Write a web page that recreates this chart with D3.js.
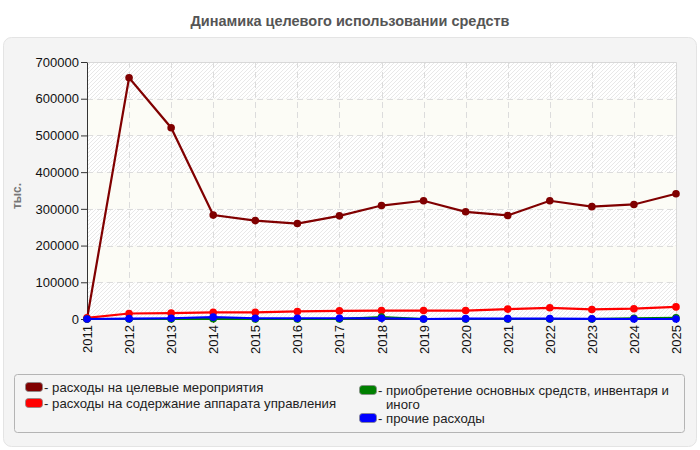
<!DOCTYPE html>
<html>
<head>
<meta charset="utf-8">
<script src="https://cdn.jsdelivr.net/npm/d3@7"></script>
<style>
body { margin: 0; background: #fff; }
svg { display: block; font-family: "Liberation Sans", Arial, sans-serif; }
</style>
</head>
<body>
<div id="chart"></div>
<script>
(function(){

var width = 700,
	height = 450,
	margin = {top: 62, right: 24, bottom: 131, left: 87};

// data
var years = ["2011","2012","2013","2014","2015","2016","2017","2018","2019","2020","2021","2022","2023","2024","2025"];
var targetEvents = [0,657000,521000,283000,268000,260000,281000,309000,322000,292000,282000,322000,306000,312000,341000];
var adminCosts = [3000,15000,16000,18000,18000,20500,22000,23000,23000,23000,27000,30500,26000,28000,33000];
var fixedAssets = [0,0,0,500,0,0,0,5000,0,0,0,0,0,2000,3000];
var otherCosts = [0,1000,2000,5000,2000,2000,2000,2000,0,1000,1000,1000,500,0,0];
var yTicks = [0,100000,200000,300000,400000,500000,600000,700000];

var series = [
	{name: "расходы на целевые мероприятия", color: "#800000", values: targetEvents},
	{name: "расходы на содержание аппарата управления", color: "#ff0000", values: adminCosts},
	{name: "приобретение основных средств, инвентаря и иного", color: "#008000", values: fixedAssets},
	{name: "прочие расходы", color: "#0000ff", values: otherCosts}
];

var svg = d3.select("#chart").append("svg")
		.attr("width", width)
		.attr("height", height);

var defs = svg.append("defs");
var hatch = defs.append("pattern")
		.attr("id", "hatch")
		.attr("patternUnits", "userSpaceOnUse")
		.attr("width", 4)
		.attr("height", 4);
hatch.append("rect").attr("width", 4).attr("height", 4).attr("fill", "#ffffff");
hatch.append("path")
	.attr("d", "M-1,1 l2,-2 M0,4 l4,-4 M3,5 l2,-2")
	.attr("stroke", "#e8e8e8")
	.attr("stroke-width", 1);

// title
svg.append("text")
	.attr("x", width/2)
	.attr("y", 26)
	.attr("text-anchor", "middle")
	.style("font-size", "14.5px")
	.style("font-weight", "bold")
	.style("fill", "#555")
	.text("Динамика целевого использовании средств");

// panel
svg.append("rect")
	.attr("x", 3.5).attr("y", 37.5)
	.attr("width", 693).attr("height", 409)
	.attr("rx", 8)
	.attr("fill", "#f4f4f4")
	.attr("stroke", "#e4e4e4");

var pw = width - margin.left - margin.right,
	ph = height - margin.top - margin.bottom;

var X = d3.scalePoint().domain(years).range([0, pw]);
var Y = d3.scaleLinear().domain([0, 700000]).range([ph, 0]);

var g = svg.append("g").attr("transform", "translate(" + margin.left + "," + margin.top + ")");

// alternating bands
var bands = d3.range(yTicks.length - 1);
g.selectAll(".band").data(bands).enter().append("rect")
	.attr("x", 0)
	.attr("width", pw)
	.attr("y", function(i){ return Y(yTicks[i+1]); })
	.attr("height", function(i){ return Y(yTicks[i]) - Y(yTicks[i+1]); })
	.attr("fill", function(i){ return i % 2 == 0 ? "url(#hatch)" : "#fcfcf6"; });

// grid
g.selectAll(".hgrid").data(yTicks.slice(1, -1)).enter().append("line")
	.attr("x1", 0).attr("x2", pw)
	.attr("y1", function(d){ return Math.round(Y(d)) + 0.5; })
	.attr("y2", function(d){ return Math.round(Y(d)) + 0.5; })
	.attr("stroke", "#dcdcdc")
	.attr("stroke-dasharray", "6,4");
g.selectAll(".vgrid").data(years.slice(1, -1)).enter().append("line")
	.attr("y1", 0).attr("y2", ph)
	.attr("x1", function(d){ return Math.round(X(d)) + 0.5; })
	.attr("x2", function(d){ return Math.round(X(d)) + 0.5; })
	.attr("stroke", "#dcdcdc")
	.attr("stroke-dasharray", "6,4");

// border top / right
g.append("path")
	.attr("d", "M0,0.5H" + (pw + 0.5) + "V" + ph)
	.attr("fill", "none")
	.attr("stroke", "#d8d8d8");

// axes
var yAxis = g.append("g")
	.call(d3.axisLeft(Y).tickValues(yTicks).tickSize(6).tickSizeOuter(0).tickFormat(d3.format("d")));
yAxis.select(".domain").attr("stroke", "#333");
yAxis.selectAll(".tick line").attr("stroke", "#333");
yAxis.selectAll("text").style("font-size", "13px").style("fill", "#111").attr("x", -8);

var xAxis = g.append("g")
	.attr("transform", "translate(0," + ph + ")")
	.call(d3.axisBottom(X).tickSize(4).tickSizeOuter(0));
xAxis.select(".domain").attr("stroke", "#333");
xAxis.selectAll(".tick line").attr("stroke", "#333");
xAxis.selectAll("text")
	.style("font-size", "13px")
	.style("fill", "#111")
	.attr("transform", "rotate(-90)")
	.attr("x", -6)
	.attr("y", 0)
	.attr("dy", "0.35em")
	.attr("text-anchor", "end");

// y label
svg.append("text")
	.attr("transform", "translate(21,196) rotate(-90)")
	.attr("text-anchor", "middle")
	.style("font-size", "12px")
	.style("font-weight", "bold")
	.style("fill", "#777")
	.text("тыс.");

// lines
var line = d3.line()
	.x(function(d, i){ return X(years[i]); })
	.y(function(d){ return Y(d); });

var sg = g.selectAll(".series").data(series).enter().append("g");
sg.append("path")
	.attr("d", function(s){ return line(s.values); })
	.attr("fill", "none")
	.attr("stroke", function(s){ return s.color; })
	.attr("stroke-width", 2.2);
sg.selectAll("circle").data(function(s){ return s.values.map(function(v, i){ return {v: v, i: i, c: s.color}; }); })
	.enter().append("circle")
	.attr("cx", function(d){ return X(years[d.i]); })
	.attr("cy", function(d){ return Y(d.v); })
	.attr("r", 3.8)
	.attr("fill", function(d){ return d.c; });

// legend
svg.append("rect")
	.attr("x", 14.5).attr("y", 374.5)
	.attr("width", 670).attr("height", 58)
	.attr("rx", 3)
	.attr("fill", "#f4f4f4")
	.attr("stroke", "#b4b4b4");

var legendPos = [
	{x: 25, y: 387, lines: [series[0].name]},
	{x: 25, y: 403, lines: [series[1].name]},
	{x: 359, y: 390, lines: ["приобретение основных средств, инвентаря и", "иного"]},
	{x: 359, y: 418, lines: [series[3].name]}
];

var li = svg.selectAll(".legend").data(series).enter().append("g")
	.attr("transform", function(d, i){ return "translate(" + legendPos[i].x + "," + legendPos[i].y + ")"; });
li.append("rect")
	.attr("x", 0.5).attr("y", -4.5)
	.attr("width", 17).attr("height", 9)
	.attr("rx", 3)
	.attr("fill", function(d){ return d.color; })
	.attr("stroke", "#888")
	.attr("stroke-width", 0.8);
li.append("text")
	.attr("x", 19)
	.attr("y", 0)
	.style("font-size", "13.2px")
	.style("fill", "#222")
	.selectAll("tspan")
	.data(function(d, i){ return legendPos[i].lines; })
	.enter().append("tspan")
	.attr("x", function(d, j){ return j == 0 ? 19 : 27; })
	.attr("dy", function(d, j){ return j == 0 ? "0.35em" : "14px"; })
	.text(function(d, j){ return j == 0 ? "- " + d : d; });

})()
</script>
</body>
</html>
